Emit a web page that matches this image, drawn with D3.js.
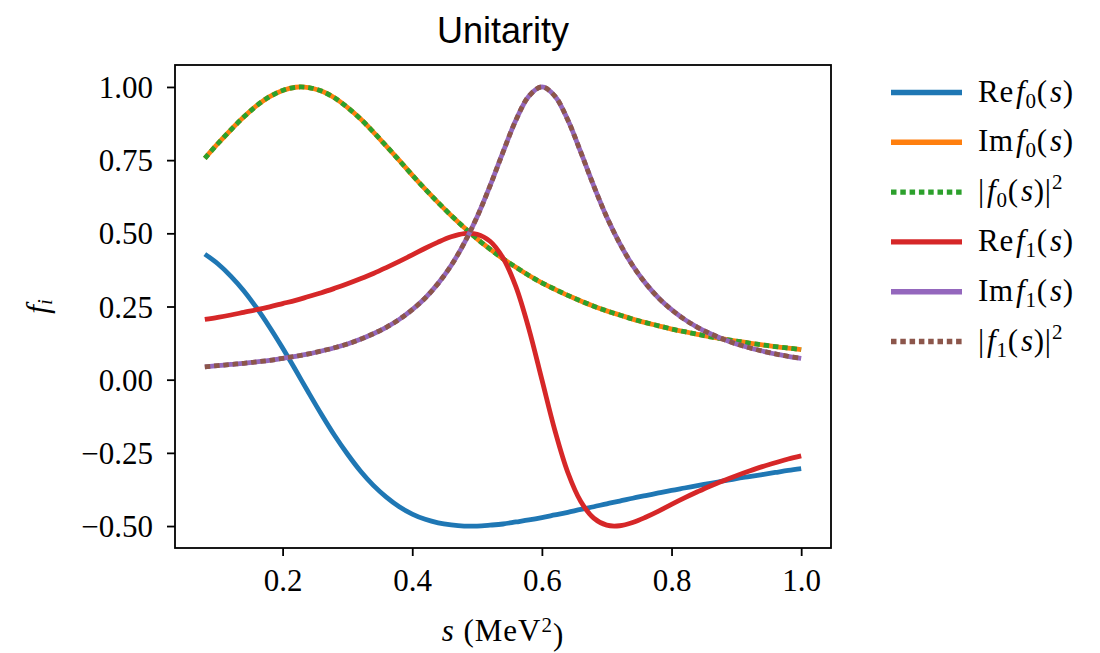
<!DOCTYPE html>
<html>
<head>
<meta charset="utf-8">
<script src="https://cdn.jsdelivr.net/npm/d3@7"></script>
<style>
  body { margin: 0; background: #fff; }
  svg { display: block; }
</style>
</head>
<body>
<svg id="chart" width="1100" height="653"></svg>
<script>
// s grid (MeV^2)
const sValues = [0.08, 0.10, 0.12, 0.14, 0.16, 0.18, 0.20, 0.22, 0.24, 0.26,
                 0.28, 0.30, 0.32, 0.34, 0.36, 0.38, 0.40, 0.42, 0.44, 0.46,
                 0.48, 0.50, 0.52, 0.54, 0.56, 0.58, 0.60, 0.62, 0.64, 0.66,
                 0.68, 0.70, 0.72, 0.74, 0.76, 0.78, 0.80, 0.82, 0.84, 0.86,
                 0.88, 0.90, 0.92, 0.94, 0.96, 0.98, 1.00];

// S-wave amplitude f0(s)
const reF0 = [0.429, 0.396, 0.354, 0.304, 0.245, 0.179, 0.108, 0.033, -0.044, -0.119,
              -0.190, -0.254, -0.312, -0.361, -0.401, -0.434, -0.459, -0.477, -0.489, -0.496,
              -0.500, -0.500, -0.497, -0.493, -0.486, -0.479, -0.471, -0.462, -0.453, -0.443,
              -0.434, -0.424, -0.415, -0.405, -0.396, -0.387, -0.378, -0.370, -0.362, -0.354,
              -0.346, -0.338, -0.331, -0.324, -0.317, -0.310, -0.304];
const imF0 = [0.756, 0.806, 0.853, 0.897, 0.936, 0.967, 0.988, 0.999, 0.998, 0.986,
              0.963, 0.930, 0.891, 0.846, 0.798, 0.749, 0.699, 0.651, 0.605, 0.561,
              0.520, 0.481, 0.446, 0.413, 0.384, 0.356, 0.331, 0.309, 0.288, 0.269,
              0.251, 0.235, 0.221, 0.207, 0.195, 0.184, 0.173, 0.164, 0.155, 0.146,
              0.139, 0.132, 0.125, 0.119, 0.113, 0.108, 0.103];
const absF0Sq = [0.756, 0.806, 0.853, 0.897, 0.936, 0.967, 0.988, 0.999, 0.998, 0.986,
                 0.963, 0.930, 0.891, 0.846, 0.798, 0.749, 0.699, 0.651, 0.605, 0.561,
                 0.520, 0.481, 0.446, 0.413, 0.384, 0.356, 0.331, 0.309, 0.288, 0.269,
                 0.251, 0.235, 0.221, 0.207, 0.195, 0.184, 0.173, 0.164, 0.155, 0.146,
                 0.139, 0.132, 0.125, 0.119, 0.113, 0.108, 0.103];

// P-wave amplitude f1(s)
const reF1 = [0.206, 0.213, 0.221, 0.230, 0.239, 0.249, 0.260, 0.271, 0.284, 0.297,
              0.312, 0.328, 0.345, 0.363, 0.383, 0.404, 0.426, 0.449, 0.470, 0.488,
              0.499, 0.497, 0.473, 0.416, 0.317, 0.173, 0.000, -0.173, -0.317, -0.416,
              -0.473, -0.497, -0.499, -0.488, -0.470, -0.449, -0.426, -0.404, -0.383, -0.363,
              -0.345, -0.328, -0.312, -0.297, -0.284, -0.271, -0.260];
const imF1 = [0.044, 0.048, 0.052, 0.056, 0.061, 0.066, 0.073, 0.080, 0.088, 0.098,
              0.109, 0.122, 0.138, 0.157, 0.179, 0.206, 0.239, 0.279, 0.329, 0.390,
              0.466, 0.556, 0.662, 0.777, 0.887, 0.969, 1.000, 0.969, 0.887, 0.777,
              0.662, 0.556, 0.466, 0.390, 0.329, 0.279, 0.239, 0.206, 0.179, 0.157,
              0.138, 0.122, 0.109, 0.098, 0.088, 0.080, 0.073];
const absF1Sq = [0.044, 0.048, 0.052, 0.056, 0.061, 0.066, 0.073, 0.080, 0.088, 0.098,
                 0.109, 0.122, 0.138, 0.157, 0.179, 0.206, 0.239, 0.279, 0.329, 0.390,
                 0.466, 0.556, 0.662, 0.777, 0.887, 0.969, 1.000, 0.969, 0.887, 0.777,
                 0.662, 0.556, 0.466, 0.390, 0.329, 0.279, 0.239, 0.206, 0.179, 0.157,
                 0.138, 0.122, 0.109, 0.098, 0.088, 0.080, 0.073];

const xTicks = [0.2, 0.4, 0.6, 0.8, 1.0];
const xTickLabels = ["0.2", "0.4", "0.6", "0.8", "1.0"];
const yTicks = [-0.5, -0.25, 0.0, 0.25, 0.5, 0.75, 1.0];
const yTickLabels = ["\u22120.50", "\u22120.25", "0.00", "0.25", "0.50", "0.75", "1.00"];

const seriesNames = ["Re f0", "Im f0", "|f0|^2", "Re f1", "Im f1", "|f1|^2"];
const seriesValues = [reF0, imF0, absF0Sq, reF1, imF1, absF1Sq];
const seriesColors = ["#1f77b4", "#ff7f0e", "#2ca02c", "#d62728", "#9467bd", "#8c564b"];
const seriesDotted = [false, false, true, false, false, true];

// ---- layout ----
const svg = d3.select("#chart");
const box = { left: 175, right: 831, top: 65, bottom: 548 };
const serif = "'Liberation Serif', 'Times New Roman', serif";
const lineW = 4.8;
const dotDash = "5.5,3.8";

const sExt = d3.extent(sValues);
const sPad = 0.05 * (sExt[1] - sExt[0]);
const allVals = seriesValues.flat();
const vExt = d3.extent(allVals);
const vPad = 0.05 * (vExt[1] - vExt[0]);

const x = d3.scaleLinear().domain([sExt[0] - sPad, sExt[1] + sPad]).range([box.left, box.right]);
const y = d3.scaleLinear().domain([vExt[0] - vPad, vExt[1] + vPad]).range([box.bottom, box.top]);

// ---- axes ----
const xAxis = d3.axisBottom(x).tickValues(xTicks).tickSize(8).tickPadding(8)
  .tickFormat((d, i) => xTickLabels[i]);
const yAxis = d3.axisLeft(y).tickValues(yTicks).tickSize(8).tickPadding(14)
  .tickFormat((d, i) => yTickLabels[i]);

const gx = svg.append("g").attr("transform", `translate(0,${box.bottom})`).call(xAxis);
const gy = svg.append("g").attr("transform", `translate(${box.left},0)`).call(yAxis);
[gx, gy].forEach(g => {
  g.select(".domain").remove();
  g.selectAll(".tick line").attr("stroke", "#000").attr("stroke-width", 1.8);
  g.selectAll(".tick text").attr("fill", "#000")
    .style("font-family", serif).style("font-size", "31px");
});
gx.selectAll(".tick text").attr("dy", "0.88em");
gy.selectAll(".tick text").attr("dy", "0.34em");

// ---- curves ----
const line = d3.line().curve(d3.curveCatmullRom.alpha(0.5));
const curves = svg.append("g");
seriesValues.forEach((vals, k) => {
  const pts = sValues.map((s, i) => [x(s), y(vals[i])]);
  curves.append("path")
    .attr("d", line(pts))
    .attr("fill", "none")
    .attr("stroke", seriesColors[k])
    .attr("stroke-width", lineW)
    .attr("stroke-linejoin", "round")
    .attr("stroke-linecap", "butt")
    .attr("stroke-dasharray", seriesDotted[k] ? dotDash : null);
});

// ---- frame ----
svg.append("rect")
  .attr("x", box.left).attr("y", box.top)
  .attr("width", box.right - box.left).attr("height", box.bottom - box.top)
  .attr("fill", "none").attr("stroke", "#000").attr("stroke-width", 1.8);

// ---- title and axis labels ----
svg.append("text")
  .attr("x", (box.left + box.right) / 2).attr("y", 43)
  .attr("text-anchor", "middle")
  .style("font-family", "'Liberation Sans', Arial, sans-serif")
  .style("font-size", "36px").attr("fill", "#000")
  .text("Unitarity");

const xl = svg.append("text")
  .attr("x", (box.left + box.right) / 2).attr("y", 641)
  .attr("text-anchor", "middle")
  .style("font-family", serif).style("font-size", "31px")
  .style("letter-spacing", "1px").attr("fill", "#000");
xl.append("tspan").style("font-style", "italic").text("s");
xl.append("tspan").text(" (MeV");
xl.append("tspan").attr("dy", "-0.42em").style("font-size", "21px").text("2");
xl.append("tspan").attr("dy", "0.42em").text(")");

const yl = svg.append("text")
  .attr("transform", `translate(48,${(box.top + box.bottom) / 2}) rotate(-90)`)
  .attr("text-anchor", "middle")
  .style("font-family", serif).style("font-size", "31px").attr("fill", "#000");
yl.append("tspan").style("font-style", "italic").text("f");
yl.append("tspan").attr("dy", "0.2em").style("font-style", "italic").style("font-size", "21px").text("i");

// ---- legend ----
const legendParts = [
  [["Re", "n"], ["f", "i"], ["0", "sub"], ["(", "n"], ["s", "i"], [")", "n"]],
  [["Im", "n"], ["f", "i"], ["0", "sub"], ["(", "n"], ["s", "i"], [")", "n"]],
  [["|", "n"], ["f", "i"], ["0", "sub"], ["(", "n"], ["s", "i"], [")|", "n"], ["2", "sup"]],
  [["Re", "n"], ["f", "i"], ["1", "sub"], ["(", "n"], ["s", "i"], [")", "n"]],
  [["Im", "n"], ["f", "i"], ["1", "sub"], ["(", "n"], ["s", "i"], [")", "n"]],
  [["|", "n"], ["f", "i"], ["1", "sub"], ["(", "n"], ["s", "i"], [")|", "n"], ["2", "sup"]]
];
const legend = svg.append("g");
const legY0 = 92.5, legStep = 49.8;
seriesNames.forEach((name, k) => {
  const ly = legY0 + k * legStep;
  legend.append("line")
    .attr("x1", 891).attr("x2", 962).attr("y1", ly).attr("y2", ly)
    .attr("stroke", seriesColors[k]).attr("stroke-width", lineW + 0.6)
    .attr("stroke-dasharray", seriesDotted[k] ? dotDash : null);
  const t = legend.append("text")
    .attr("x", 978).attr("y", ly + 9)
    .style("font-family", serif).style("font-size", "31px")
    .style("letter-spacing", "0.8px").attr("fill", "#000");
  let shift = 0;
  legendParts[k].forEach(([txt, kind]) => {
    const sp = t.append("tspan").text(txt);
    let target = 0;
    if (kind === "i") sp.style("font-style", "italic").attr("dx", 2);
    if (kind === "sub") { sp.style("font-size", "21px"); target = 6; }
    if (kind === "sup") { sp.style("font-size", "21px"); target = -12; }
    sp.attr("dy", target - shift);
    shift = target;
  });
});
</script>
</body>
</html>
